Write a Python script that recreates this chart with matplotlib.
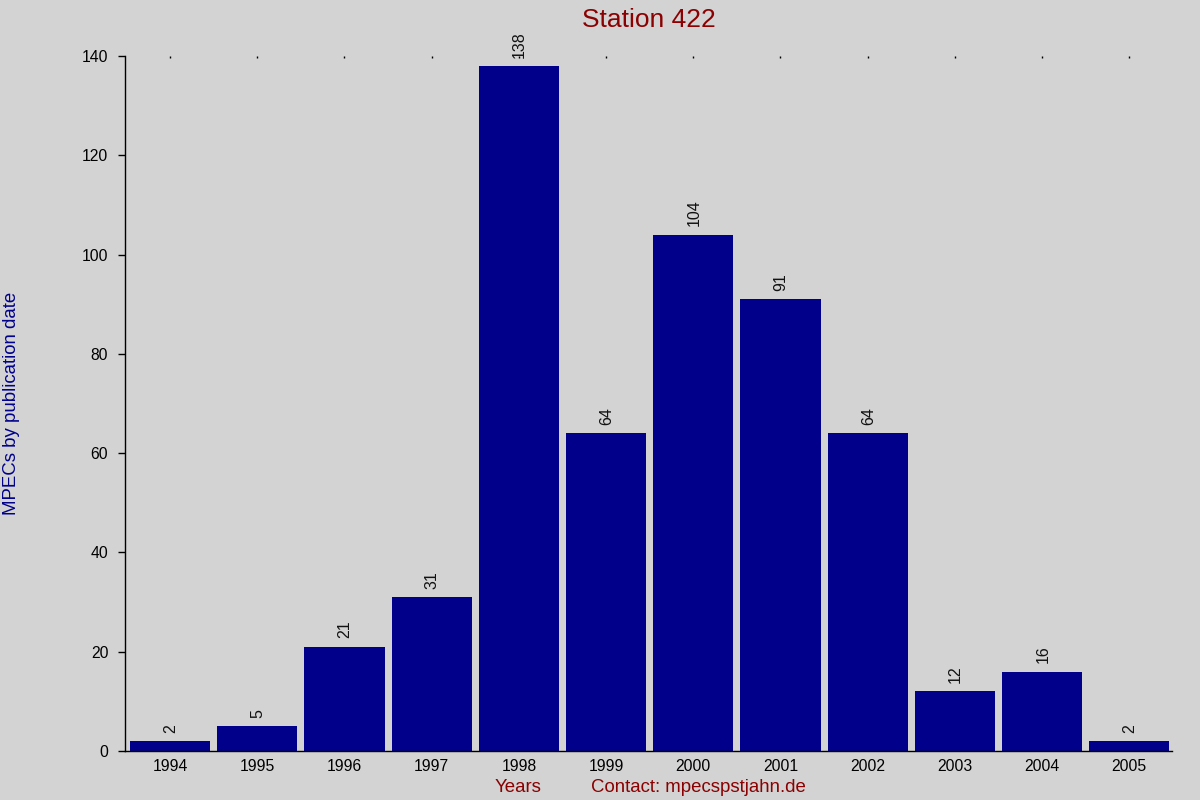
import matplotlib
matplotlib.use("Agg")
import matplotlib.pyplot as plt
import numpy as np

years = ["1994", "1995", "1996", "1997", "1998", "1999", "2000", "2001", "2002", "2003", "2004", "2005"]
counts = [2, 5, 21, 31, 138, 64, 104, 91, 64, 12, 16, 2]
yticks = [0, 20, 40, 60, 80, 100, 120, 140]

plt.rcParams['font.family'] = ['Liberation Sans', 'DejaVu Sans']

bg = '#d3d3d3'
bar_color = '#00008b'
red = '#8b0000'

fig = plt.figure(figsize=(12, 8), dpi=100, facecolor=bg)
ax = fig.add_axes([125/1200, 49/800, (1172-125)/1200, (751-56)/800])
ax.set_facecolor(bg)

x = np.arange(len(years))
ax.bar(x, counts, width=0.92, color=bar_color)
for xi, v in zip(x, counts):
    ax.annotate(str(v), (xi, v), xytext=(0.5, 6), textcoords='offset points',
                rotation=90, ha='center', va='bottom', fontsize=11.5, color='#111111')

ax.set_xlim(-0.516, 11.49)
ax.set_ylim(0, 140)
ax.set_xticks(x)
ax.set_xticklabels(years)
ax.set_yticks(yticks)
ax.tick_params(axis='x', bottom=False, top=True, direction='in', length=1.2, width=1,
               labelsize=11.3, pad=6, labelbottom=True, labeltop=False)
ax.tick_params(axis='y', direction='out', length=5, width=1, labelsize=11.3, pad=7)

for s in ['top', 'right']:
    ax.spines[s].set_visible(False)
ax.spines['left'].set_linewidth(1)
ax.spines['bottom'].set_linewidth(1)

fig.text(648.5/1200, 1 - 27/800, "Station 422", color=red, fontsize=19,
         ha='center', va='baseline')
fig.text(517.5/1200, 1 - 792/800, "Years", color=red, fontsize=13.4,
         ha='center', va='baseline')
fig.text(698/1200, 1 - 792/800, "Contact: mpecspstjahn.de", color=red, fontsize=13.4,
         ha='center', va='baseline')
fig.text(12/1200, 1 - 403.5/800, "MPECs by publication date", color='#00008b', fontsize=13.4,
         rotation=90, ha='center', va='center')

fig.savefig("out.png", dpi=100, facecolor=bg)
